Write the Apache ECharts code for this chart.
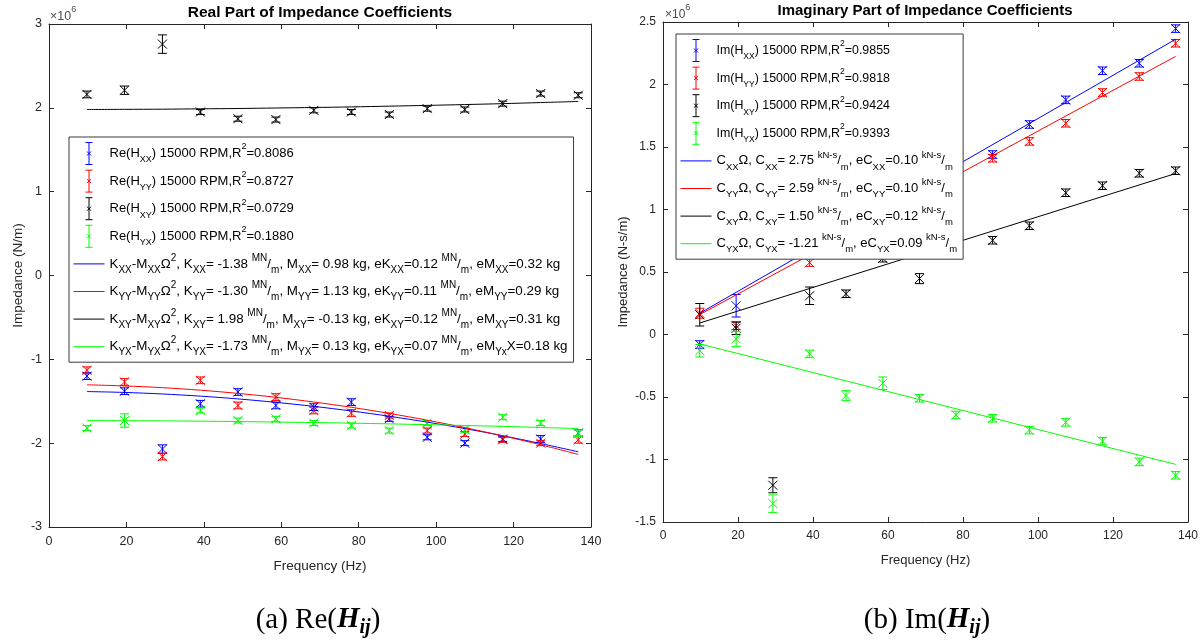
<!DOCTYPE html>
<html><head><meta charset="utf-8">
<script src="https://cdn.jsdelivr.net/npm/echarts@6/dist/echarts.min.js"></script>
<style>html,body{margin:0;padding:0;background:#fff}#c{width:1204px;height:640px}</style>
</head><body><div id="c"></div><script>
// ---------- DATA ----------
const freq = [9.8, 19.5, 29.3, 39.1, 48.8, 58.6, 68.4, 78.1, 87.9, 97.7, 107.4, 117.2, 127.0, 136.7];

// Real part, x10^6 N/m
const reXX    = [-1.20, -1.38, -2.07, -1.53, -1.39, -1.55, -1.57, -1.51, -1.71, -1.93, -2.00, -1.95, -1.95, -1.88];
const reXXerr = [0.04, 0.04, 0.05, 0.04, 0.04, 0.04, 0.04, 0.04, 0.03, 0.03, 0.03, 0.03, 0.04, 0.04];
const reYY    = [-1.13, -1.27, -2.16, -1.25, -1.55, -1.45, -1.61, -1.64, -1.67, -1.85, -1.89, -1.96, -2.00, -1.96];
const reYYerr = [0.04, 0.04, 0.04, 0.04, 0.04, 0.04, 0.04, 0.04, 0.03, 0.03, 0.03, 0.03, 0.03, 0.04];
const reXY    = [2.16, 2.21, 2.76, 1.95, 1.87, 1.86, 1.97, 1.95, 1.92, 1.99, 1.98, 2.05, 2.17, 2.15];
const reXYerr = [0.04, 0.05, 0.11, 0.03, 0.03, 0.03, 0.03, 0.03, 0.03, 0.03, 0.03, 0.03, 0.03, 0.03];
const reYX    = [-1.82, -1.73, null, -1.61, -1.73, -1.71, -1.76, -1.79, -1.85, -1.76, -1.84, -1.69, -1.76, -1.88];
const reYXerr = [0.03, 0.08, 0.03, 0.03, 0.03, 0.03, 0.03, 0.03, 0.03, 0.03, 0.03, 0.03, 0.03, 0.04];

// Real-part fit curves (read at each frequency)
const reFitXX = [-1.384, -1.395, -1.413, -1.439, -1.472, -1.513, -1.561, -1.616, -1.679, -1.749, -1.826, -1.911, -2.004, -2.103];
const reFitYY = [-1.304, -1.317, -1.338, -1.368, -1.406, -1.453, -1.509, -1.572, -1.645, -1.726, -1.815, -1.913, -2.019, -2.134];
const reFitXY = [1.980, 1.982, 1.984, 1.988, 1.992, 1.998, 2.004, 2.011, 2.020, 2.029, 2.039, 2.050, 2.063, 2.076];
const reFitYX = [-1.730, -1.732, -1.734, -1.738, -1.742, -1.748, -1.754, -1.761, -1.770, -1.779, -1.789, -1.800, -1.813, -1.826];

// Imaginary part, x10^6 N-s/m
const imXX    = [-0.08, 0.23, 0.80, 0.70, 0.88, 1.02, 1.18, 1.32, 1.44, 1.68, 1.877, 2.11, 2.17, 2.447];
const imXXerr = [0.03, 0.09, 0.03, 0.03, 0.03, 0.03, 0.03, 0.03, 0.03, 0.03, 0.03, 0.03, 0.03, 0.03];
const imYY    = [0.17, 0.07, 0.75, 0.575, 0.80, 0.95, 1.10, 1.25, 1.41, 1.545, 1.69, 1.936, 2.064, 2.33];
const imYYerr = [0.04, 0.03, 0.03, 0.03, 0.03, 0.03, 0.03, 0.03, 0.03, 0.03, 0.03, 0.03, 0.03, 0.03];
const imXY    = [0.158, 0.05, -1.206, 0.31, 0.326, 0.61, 0.447, 0.72, 0.754, 0.87, 1.134, 1.19, 1.29, 1.31];
const imXYerr = [0.09, 0.05, 0.06, 0.07, 0.03, 0.03, 0.04, 0.03, 0.03, 0.03, 0.03, 0.03, 0.03, 0.03];
const imYX    = [-0.13, -0.035, -1.353, -0.155, -0.489, -0.39, -0.51, -0.644, -0.67, -0.765, -0.703, -0.853, -1.019, -1.126];
const imYXerr = [0.05, 0.06, 0.07, 0.03, 0.04, 0.05, 0.03, 0.03, 0.03, 0.03, 0.03, 0.03, 0.03, 0.03];

// Imaginary-part fit lines (end points)
const imFitFreq = [9.8, 136.7];
const imFitXX = [0.170, 2.362];
const imFitYY = [0.159, 2.225];
const imFitXY = [0.092, 1.288];
const imFitYX = [-0.075, -1.039];

// Legend values
const reR2 = ['0.8086', '0.8727', '0.0729', '0.1880'];
const reK  = ['-1.38', '-1.30', '1.98', '-1.73'];
const reM  = ['0.98', '1.13', '-0.13', '0.13'];
const reEK = ['0.12', '0.11', '0.12', '0.07'];
const reEM = ['0.32', '0.29', '0.31', '0.18'];
const imR2 = ['0.9855', '0.9818', '0.9424', '0.9393'];
const imC  = ['2.75', '2.59', '1.50', '-1.21'];
const imEC = ['0.10', '0.10', '0.12', '0.09'];
const subs = ['XX', 'YY', 'XY', 'YX'];
const colors = ['#0000ff', '#ff0000', '#000000', '#00ff00'];

// ---------- BUILD ----------
const AX = '#262626';
const FONT = 'Liberation Sans';
function pts(v, e) { const out = []; for (let i = 0; i < freq.length; i++) if (v[i] != null) out.push([freq[i], v[i], e[i]]); return out; }
function line(xs, ys) { return xs.map((x, i) => [x, ys[i]]); }

function errRender(params, api) {
  const x = api.value(0), y = api.value(1), e = api.value(2);
  const p = api.coord([x, y]);
  const t = api.coord([x, y + e]);
  const b = api.coord([x, y - e]);
  const c = api.visual('color');
  const cw = 4.5, m = 4.5;
  const st = { stroke: c, lineWidth: 1 };
  return { type: 'group', children: [
    { type: 'line', shape: { x1: p[0], y1: t[1], x2: p[0], y2: b[1] }, style: st },
    { type: 'line', shape: { x1: p[0] - cw, y1: t[1], x2: p[0] + cw, y2: t[1] }, style: st },
    { type: 'line', shape: { x1: p[0] - cw, y1: b[1], x2: p[0] + cw, y2: b[1] }, style: st },
    { type: 'line', shape: { x1: p[0] - m, y1: p[1] - m, x2: p[0] + m, y2: p[1] + m }, style: st },
    { type: 'line', shape: { x1: p[0] - m, y1: p[1] + m, x2: p[0] + m, y2: p[1] - m }, style: st }
  ]};
}

const ERR_ICON = 'path://M0,0M31,22M12,0L19,0M15.5,0L15.5,22M12,22L19,22M13.5,9L17.5,13M17.5,9L13.5,13';
const LINE_ICON = 'path://M0,0M31,22M0,11L31,11';

const richMap = {};
const reDataNames = [], reFitNames = [], imDataNames = [], imFitNames = [];
for (let i = 0; i < 4; i++) {
  const s = subs[i];
  let n = 'Re(H' + s + ') 15000 RPM,R2=' + reR2[i];
  reDataNames.push(n);
  richMap[n] = '{n|Re(H}{sub|' + s + '}{n|) 15000 RPM,R}{sup|2}{n|=' + reR2[i] + '}';
  n = 'K' + s + '-M' + s + 'fit';
  reFitNames.push(n);
  const emSub = (s === 'YX') ? '{fb|Yx}{fn|X' : '{fb|' + s + '}{fn|';
  richMap[n] = '{fn|K}{fb|' + s + '}{fn|-M}{fb|' + s + '}{fn|Ω}{fp|2}{fn|, K}{fb|' + s + '}{fn|= ' + reK[i] +
    ' }{fp|MN}{fn|/}{fb|m}{fn|, M}{fb|' + s + '}{fn|= ' + reM[i] + ' kg, eK}{fb|' + s + '}{fn|=' + reEK[i] +
    ' }{fp|MN}{fn|/}{fb|m}{fn|, eM}' + emSub + '=' + reEM[i] + ' kg}';
  n = 'Im(H' + s + ') 15000 RPM,R2=' + imR2[i];
  imDataNames.push(n);
  richMap[n] = '{n|Im(H}{sub|' + s + '}{n|) 15000 RPM,R}{sup|2}{n|=' + imR2[i] + '}';
  n = 'C' + s + 'fit';
  imFitNames.push(n);
  richMap[n] = '{fn|C}{fb|' + s + '}{fn|Ω, C}{fb|' + s + '}{fn|= ' + imC[i] + ' }{fp|kN-s}{fn|/}{fb|m}{fn|, eC}{fb|' +
    s + '}{fn|=' + imEC[i] + ' }{fp|kN-s}{fn|/}{fb|m}';
}

function rich(fs, ss, ffs, fss) {
  return {
    n: { fontSize: fs, lineHeight: 22, fontFamily: FONT, color: '#000' },
    sub: { fontSize: ss, lineHeight: 11, verticalAlign: 'bottom', fontFamily: FONT, color: '#000' },
    sup: { fontSize: ss, lineHeight: 11, verticalAlign: 'top', fontFamily: FONT, color: '#000' },
    fn: { fontSize: ffs, lineHeight: 22, fontFamily: FONT, color: '#000' },
    fb: { fontSize: fss, lineHeight: 11, verticalAlign: 'bottom', fontFamily: FONT, color: '#000' },
    fp: { fontSize: fss, lineHeight: 11, verticalAlign: 'top', fontFamily: FONT, color: '#000' }
  };
}

const reData = [pts(reXX, reXXerr), pts(reYY, reYYerr), pts(reXY, reXYerr), pts(reYX, reYXerr)];
const reFits = [reFitXX, reFitYY, reFitXY, reFitYX];
const imData = [pts(imXX, imXXerr), pts(imYY, imYYerr), pts(imXY, imXYerr), pts(imYX, imYXerr)];
const imFits = [imFitXX, imFitYY, imFitXY, imFitYX];

const series = [];
for (let i = 0; i < 4; i++) {
  series.push({ type: 'custom', name: reDataNames[i], xAxisIndex: 0, yAxisIndex: 0, renderItem: errRender,
    encode: { x: 0, y: 1 }, data: reData[i], itemStyle: { color: colors[i], borderColor: colors[i] }, z: 2 });
}
for (let i = 0; i < 4; i++) {
  series.push({ type: 'line', name: reFitNames[i], xAxisIndex: 0, yAxisIndex: 0, data: line(freq, reFits[i]),
    smooth: 0.3, symbol: 'none', showSymbol: false, lineStyle: { color: colors[i], width: 1 }, itemStyle: { color: colors[i] }, z: 3 });
}
for (let i = 0; i < 4; i++) {
  series.push({ type: 'custom', name: imDataNames[i], xAxisIndex: 2, yAxisIndex: 2, renderItem: errRender,
    encode: { x: 0, y: 1 }, data: imData[i], itemStyle: { color: colors[i], borderColor: colors[i] }, z: 2 });
}
for (let i = 0; i < 4; i++) {
  series.push({ type: 'line', name: imFitNames[i], xAxisIndex: 2, yAxisIndex: 2, data: line(imFitFreq, imFits[i]),
    symbol: 'none', showSymbol: false, lineStyle: { color: colors[i], width: 1 }, itemStyle: { color: colors[i] }, z: 3 });
}

function axisX(grid, pos, show, fs) {
  return { type: 'value', gridIndex: grid, position: pos, min: 0, max: 140, interval: 20,
    axisLine: { show: true, onZero: false, lineStyle: { color: AX, width: 1 } },
    axisTick: { show: true, inside: true, length: 5, lineStyle: { color: AX } },
    splitLine: { show: false },
    axisLabel: { show: show, color: AX, fontSize: fs, fontFamily: FONT, margin: 8 },
    name: show ? 'Frequency (Hz)' : '', nameLocation: 'middle', nameGap: 32,
    nameTextStyle: { color: AX, fontSize: fs + 1, fontFamily: FONT } };
}
function axisY(grid, pos, show, min, max, iv, fs, nm, gap) {
  return { type: 'value', gridIndex: grid, position: pos, min: min, max: max, interval: iv,
    axisLine: { show: true, onZero: false, lineStyle: { color: AX, width: 1 } },
    axisTick: { show: true, inside: true, length: 5, lineStyle: { color: AX } },
    splitLine: { show: false },
    axisLabel: { show: show, color: AX, fontSize: fs, fontFamily: FONT, margin: 7 },
    name: show ? nm : '', nameLocation: 'middle', nameGap: gap, nameRotate: 90,
    nameTextStyle: { color: AX, fontSize: fs + 1, fontFamily: FONT } };
}

function legend(left, top, names, fits, fs, ss, ffs, fss) {
  const data = [];
  for (let i = 0; i < 4; i++) data.push({ name: names[i], icon: ERR_ICON,
    itemStyle: { color: 'transparent', borderColor: colors[i], borderWidth: 1 } });
  for (let i = 0; i < 4; i++) data.push({ name: fits[i], icon: LINE_ICON,
    itemStyle: { color: 'transparent', borderColor: colors[i], borderWidth: 1 } });
  return { orient: 'vertical', left: left, top: top, data: data, selectedMode: false,
    itemWidth: 31, itemHeight: 22, itemGap: 4.6, padding: [5, 6, 4, 4],
    backgroundColor: '#ffffff', borderColor: '#3a3a3a', borderWidth: 1, borderRadius: 0,
    formatter: function (name) { return richMap[name]; },
    textStyle: { fontFamily: FONT, fontSize: fs, color: '#000', rich: rich(fs, ss, ffs, fss) } };
}

const option = {
  backgroundColor: '#ffffff',
  animation: false,
  grid: [
    { left: 49, top: 24, width: 542, height: 503 },
    { left: 663, top: 22, width: 525, height: 500 }
  ],
  xAxis: [axisX(0, 'bottom', true, 12.5), axisX(0, 'top', false, 12.5), axisX(1, 'bottom', true, 12), axisX(1, 'top', false, 12)],
  yAxis: [axisY(0, 'left', true, -3, 3, 1, 12.5, 'Impedance (N/m)', 24), axisY(0, 'right', false, -3, 3, 1, 12.5, '', 0),
          axisY(1, 'left', true, -1.5, 2.5, 0.5, 12, 'Impedance (N-s/m)', 33), axisY(1, 'right', false, -1.5, 2.5, 0.5, 12, '', 0)],
  legend: [legend(69, 137, reDataNames, reFitNames, 13, 9, 13.4, 10), legend(676, 34, imDataNames, imFitNames, 12.4, 8.5, 13, 9.5)],
  graphic: [
    { type: 'text', x: 320, y: 13, style: { text: 'Real Part of Impedance Coefficients', fill: '#000',
      font: 'bold 15.5px "Liberation Sans"', align: 'center', verticalAlign: 'middle' } },
    { type: 'text', x: 925, y: 11, style: { text: 'Imaginary Part of Impedance Coefficients', fill: '#000',
      font: 'bold 15px "Liberation Sans"', align: 'center', verticalAlign: 'middle' } },
    { type: 'text', x: 50, y: 14, style: { text: '{a|×10}{s|6}', align: 'left', verticalAlign: 'middle',
      rich: { a: { fontSize: 12.5, fontFamily: FONT, fill: '#4d4d4d', lineHeight: 18, verticalAlign: 'bottom' },
              s: { fontSize: 9, fontFamily: FONT, fill: '#4d4d4d', lineHeight: 10, verticalAlign: 'top' } } } },
    { type: 'text', x: 665, y: 12, style: { text: '{a|×10}{s|6}', align: 'left', verticalAlign: 'middle',
      rich: { a: { fontSize: 12, fontFamily: FONT, fill: '#4d4d4d', lineHeight: 18, verticalAlign: 'bottom' },
              s: { fontSize: 9, fontFamily: FONT, fill: '#4d4d4d', lineHeight: 10, verticalAlign: 'top' } } } },
    { type: 'text', x: 318, y: 620, style: { text: '{a|(a) Re(}{h|H}{s|ij}{a|)}', align: 'center', verticalAlign: 'middle',
      rich: { a: { fontSize: 29, fontFamily: 'Liberation Serif', fill: '#000', lineHeight: 36 },
              h: { fontSize: 29, fontFamily: 'Liberation Serif', fontStyle: 'italic', fontWeight: 'bold', fill: '#000', lineHeight: 36 },
              s: { fontSize: 20, fontFamily: 'Liberation Serif', fontStyle: 'italic', fontWeight: 'bold', fill: '#000', lineHeight: 22, verticalAlign: 'bottom' } } } },
    { type: 'text', x: 927, y: 620, style: { text: '{a|(b) Im(}{h|H}{s|ij}{a|)}', align: 'center', verticalAlign: 'middle',
      rich: { a: { fontSize: 29, fontFamily: 'Liberation Serif', fill: '#000', lineHeight: 36 },
              h: { fontSize: 29, fontFamily: 'Liberation Serif', fontStyle: 'italic', fontWeight: 'bold', fill: '#000', lineHeight: 36 },
              s: { fontSize: 20, fontFamily: 'Liberation Serif', fontStyle: 'italic', fontWeight: 'bold', fill: '#000', lineHeight: 22, verticalAlign: 'bottom' } } } }
  ],
  series: series
};
const chart = echarts.init(document.getElementById('c'), null, { renderer: 'canvas' });
chart.setOption(option);
</script></body></html>
